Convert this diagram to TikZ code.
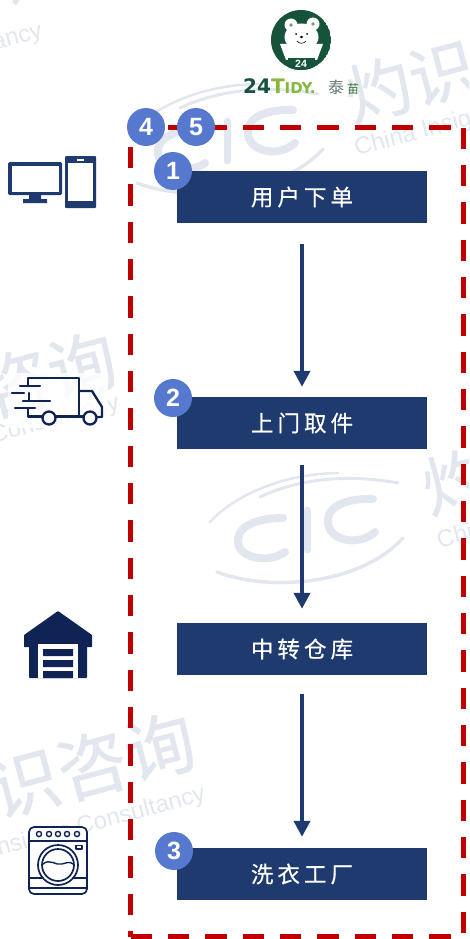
\documentclass[tikz,border=0pt]{standalone}
\usepackage{fontspec}
\setmainfont{Liberation Sans}
\newfontfamily\brandfont{DejaVu Sans}
\newfontfamily\cjk[LetterSpace=18,FakeBold=0.4]{Noto Sans CJK SC}
\newfontfamily\cjkplain{Noto Sans CJK SC}
\newfontfamily\cjkmark[FakeBold=0.7]{Noto Sans CJK SC}
\usetikzlibrary{arrows.meta}
\definecolor{navy}{HTML}{1F3A6E}
\definecolor{darknavy}{HTML}{0F2454}
\definecolor{badgeblue}{HTML}{5679CF}
\definecolor{framered}{HTML}{C00000}
\definecolor{bearGreen}{HTML}{17533A}
\definecolor{tidyGreen}{HTML}{86B83C}
\definecolor{wmark}{HTML}{E2E7EF}
\tikzset{
    stepbox/.style={fill=navy, minimum width=250pt, minimum height=52pt, inner sep=0pt, text=white,
        font=\cjk\fontsize{22.5}{22.5}\selectfont},
    badge/.style={circle, fill=badgeblue, minimum size=38pt, inner sep=0pt, text=white,
        font=\fontsize{25}{25}\selectfont\bfseries},
    flow/.style={navy, line width=4.4pt, -{Triangle[width=16pt,length=16pt]}},
    framedash/.style={framered, line width=5.5pt, dash pattern=on 21.4pt off 15.93pt},
    wmtext/.style={text=wmark, rotate=15, inner sep=0pt, font=\fontsize{#1}{#1}\selectfont},
    wmcjk/.style={text=wmark, rotate=15, inner sep=0pt, font=\cjkmark\fontsize{#1}{#1}\selectfont},
    wmarc/.style={wmark, line width=#1, line cap=round},
    iconline/.style={darknavy, line width=2.3pt, line cap=round, line join=round},
}
\begin{document}
\begin{tikzpicture}[x=1pt, y=-1pt]
    \useasboundingbox (0,0) rectangle (469,939);
    \clip (0,0) rectangle (469,939);

    % watermark
    \node[wmcjk=68] (wmZ) at (30,-28) {询};
    \node[wmtext=24] (wmA) at (18,40) {ancy};
    \node[wmcjk=66] (wmB) at (410,81) {灼识};
    \node[wmtext=24, anchor=west] (wmC) at (355,150) {China Insights};
    \node[wmcjk=68] (wmD) at (49,374) {咨询};
    \node[wmtext=24] (wmE) at (55,420) {Consultancy};
    \node[wmcjk=66] (wmF) at (487,473) {灼识};
    \node[wmtext=24, anchor=west] (wmG) at (437,540) {China};
    \node[wmcjk=70] (wmH) at (92,765) {识咨询};
    \node[wmtext=24] (wmI) at (98,823) {Insights Consultancy};
    \foreach \ox/\oy in {-80/-389, 0/0} {
        \begin{scope}[shift={(\ox,\oy)}]
            \draw[wmarc=8pt] (283,518) .. controls (250,518) and (236,530) .. (238,543) .. controls (240,558) and (268,564) .. (285,552);
            \draw[wmarc=7pt] (307,510) -- (307,550);
            \draw[wmarc=8pt] (373,499) .. controls (340,498) and (326,510) .. (328,523) .. controls (330,542) and (360,546) .. (375,532);
            \draw[wmarc=2.5pt] (210,522) .. controls (230,500) and (275,474) .. (338,473);
            \draw[wmarc=3pt] (260,497) .. controls (300,478) and (350,474) .. (398,483);
            \draw[wmarc=3.5pt] (217,572) .. controls (270,592) and (360,585) .. (403,538);
        \end{scope}
    }

    % logo
    \begin{scope}
        \clip (301,40) circle (30);
        \fill[bearGreen] (301,40) circle (30);
        \fill[white] (280,44) -- (323,44) -- (317,60) -- (286,60) -- cycle;
        \fill[bearGreen] (288,58) rectangle (315,72);
    \end{scope}
    \fill[white] (291,25) circle (6.5) (313,24) circle (6.5) (301.5,37) ellipse (17 and 13.5);
    \fill[bearGreen!60] (291,25) circle (1.8) (313,24) circle (1.8);
    \fill[black] (296,34) circle (1) (307,34) circle (1) (301.5,37) ellipse (1.8 and 1.2);
    \draw[black, line width=.6pt] (297,41) .. controls (299,44) and (304,44) .. (306,41);
    \node[text=white, inner sep=0pt, font=\fontsize{10.5}{10.5}\selectfont\bfseries] (bearNum) at (301,64) {24};
    \node[inner sep=0pt, anchor=west, font=\brandfont\bfseries] (brand) at (243,86)
        {\fontsize{20}{20}\selectfont\textcolor{bearGreen}{24}\textcolor{tidyGreen}{T\fontsize{15}{15}\selectfont IDY.}};
    \node[inner sep=0pt, anchor=west, text=gray!80!bearGreen, font=\cjkplain\fontsize{16}{16}\selectfont] (brandCn) at (328,87) {泰\hspace{3pt}\textcolor{bearGreen!70!tidyGreen}{\fontsize{12}{12}\selectfont 苗}};

    % frame
    \coordinate (frameTL) at (130.7,127.7);
    \coordinate (frameTR) at (463.3,127.7);
    \coordinate (frameBR) at (463.3,936.5);
    \coordinate (frameBL) at (130.7,936.5);
    \draw[framedash] (frameTL) -- (frameTR);
    \draw[framedash] (frameTR) -- (frameBR);
    \draw[framedash, dash phase=18pt] (frameTL) -- (frameBL);
    \draw[framedash] (frameBL) -- (frameBR);

    % steps
    \node[stepbox] (order) at (302,197) {用户下单};
    \node[stepbox] (pickup) at (302,423) {上门取件};
    \node[stepbox] (depot) at (302,649) {中转仓库};
    \node[stepbox] (factory) at (302,874) {洗衣工厂};
    \draw[flow, shorten <=21pt, shorten >=10pt] (order) -- (pickup);
    \draw[flow, shorten <=16pt, shorten >=14pt] (pickup) -- (depot);
    \draw[flow, shorten <=19pt, shorten >=11pt] (depot) -- (factory);

    \node[badge] (badgeA) at (173,171) {1};
    \node[badge] (badgeB) at (173,398) {2};
    \node[badge] (badgeC) at (174,851) {3};
    \node[badge] (badgeD) at (146,127) {4};
    \node[badge] (badgeE) at (196,127) {5};

    % screen and phone
    \fill[navy, rounded corners=1.5pt] (8,162) rectangle (62,195);
    \fill[white] (11.5,165.5) rectangle (58.5,191.5);
    \fill[navy] (29,195) rectangle (41,200) (23,199) rectangle (47,203);
    \fill[navy, rounded corners=1pt] (65,156) rectangle (96,208);
    \fill[white] (68,163) rectangle (93,201);
    \fill[white] (77,158.5) rectangle (84,160.5);

    % truck
    \fill[white, opacity=.8] (8,373) rectangle (108,428);
    \draw[iconline] (28,386) -- (28,378) -- (79,378) -- (79,416);
    \draw[iconline] (29,393) -- (29,401) (28,408) -- (28,416.5) -- (42,416.5);
    \draw[iconline] (56,416.5) -- (83,416.5);
    \draw[iconline] (79,391) -- (92,391) -- (102,407) -- (102,417) -- (97,417);
    \draw[iconline] (49,418) circle (6.5) (90,418) circle (6.5);
    \draw[iconline] (20,386) -- (40,386) (12,393) -- (24,393) (23,401) -- (50,401) (15,408) -- (35,408);

    % warehouse
    \fill[darknavy, rounded corners=.5pt] (58,611) -- (92,635) -- (92,647) -- (24,647) -- (24,635) -- cycle;
    \fill[darknavy, rounded corners=1pt] (29,645) rectangle (87,678);
    \fill[white] (38,644) rectangle (78,678);
    \fill[darknavy] (43,649) rectangle (73,656) (43,660) rectangle (73,667) (43,671) rectangle (73,678);

    % washer
    \draw[iconline, line width=1.7pt, rounded corners=5pt, fill=white] (29,827) rectangle (87,894);
    \draw[iconline, line width=1.7pt] (30,841) -- (86,841) (30,888) -- (86,888) (30,878) -- (43,878) (73,878) -- (86,878);
    \foreach \kx in {39,49,58,67,77} {
        \draw[iconline, line width=1.4pt] (\kx,834) circle (2.6);
    }
    \draw[iconline, line width=1.2pt] (76,845.5) rectangle (82,849);
    \draw[iconline, line width=1.7pt] (58,865) circle (20) (58,865) circle (16);
    \draw[iconline, line width=1.4pt] (43,864) .. controls (50,858) and (56,866) .. (62,864) .. controls (66,863) and (70,861) .. (73,864);
\end{tikzpicture}
\end{document}
